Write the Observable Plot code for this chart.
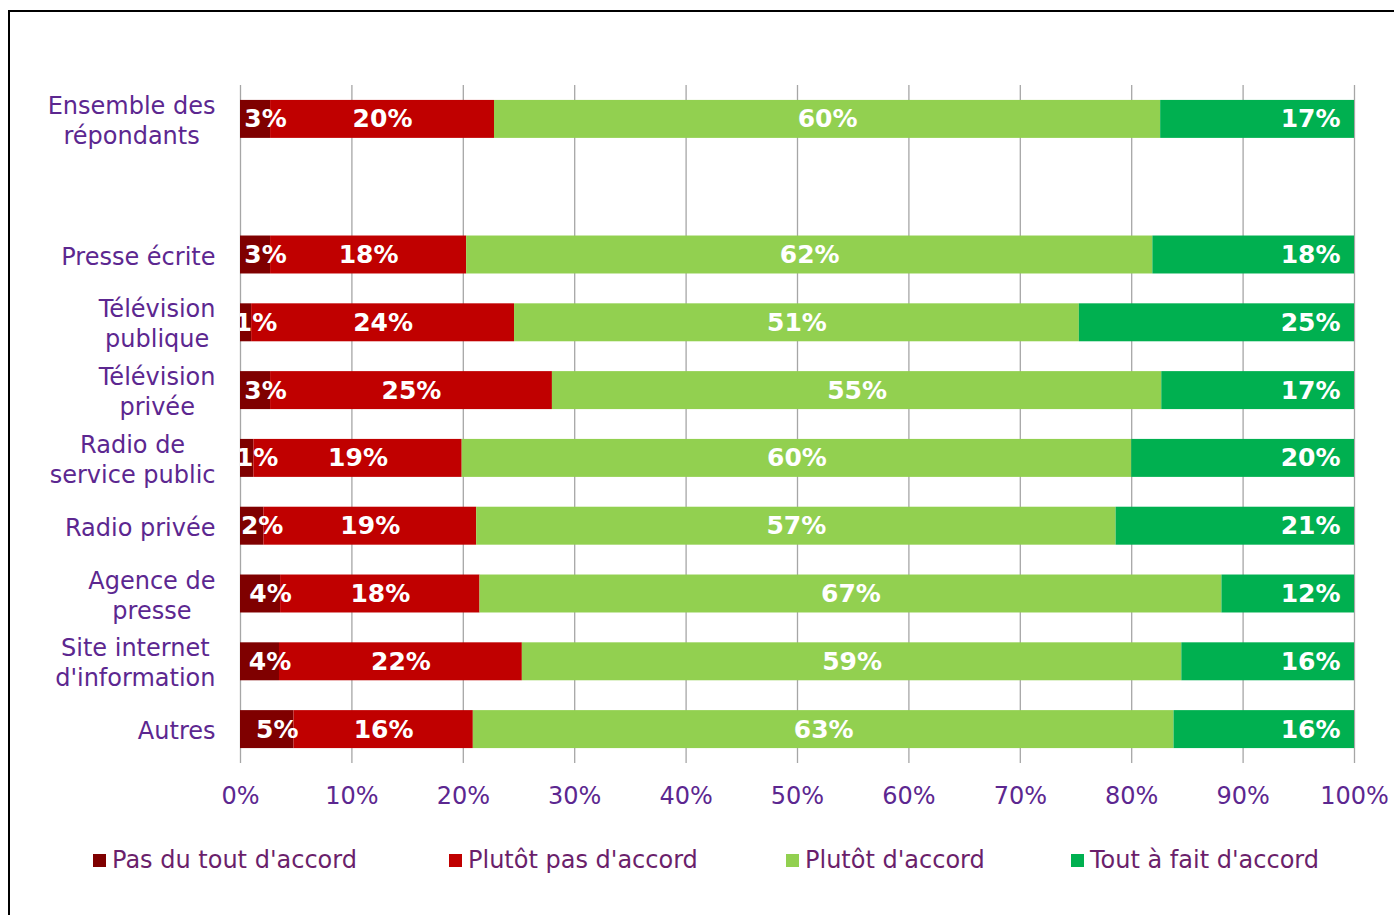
<!DOCTYPE html>
<html><head><meta charset="utf-8">
<script src="https://cdn.jsdelivr.net/npm/d3@7"></script>
<script src="https://cdn.jsdelivr.net/npm/@observablehq/plot@0.6"></script>
<style>
body{margin:0;background:#fff;font-family:"DejaVu Sans",Verdana,sans-serif;}
#frame{position:absolute;left:8px;top:10px;width:1500px;height:1000px;border:2px solid #000;box-sizing:border-box;}
#chart{position:absolute;left:0;top:0;}
#legend{position:absolute;top:843px;left:0;width:1394px;height:34px;}
.item{position:absolute;top:0;height:34px;display:flex;align-items:center;font-size:24px;color:#6b1f6b;white-space:nowrap;font-family:"DejaVu Sans",sans-serif;}
.sw{width:13px;height:13px;margin-right:6px;flex:none;}
</style></head><body>
<div id="frame"></div><div id="chart"></div><div id="legend"></div>
<script>
const categories = ["Ensemble des\nrépondants", "Presse écrite", "Télévision\npublique", "Télévision\nprivée", "Radio de\nservice public", "Radio privée", "Agence de\npresse", "Site internet\nd'information", "Autres"];
const series = ["Pas du tout d'accord", "Plutôt pas d'accord", "Plutôt d'accord", "Tout à fait d'accord"];
const colors = ["#7f0000", "#c00000", "#92d050", "#00b050"];
const pasDuTout = [2.7, 2.7, 1.0, 2.7, 1.2, 2.1, 3.6, 3.5, 4.8];
const plutotPas = [20.1, 17.6, 23.6, 25.3, 18.7, 19.1, 17.9, 21.8, 16.1];
const plutot    = [59.8, 61.6, 50.7, 54.7, 60.1, 57.4, 66.6, 59.2, 62.9];
const toutAFait = [17.4, 18.1, 24.7, 17.3, 20.0, 21.4, 11.9, 15.5, 16.2];
const xTicks = [0, 10, 20, 30, 40, 50, 60, 70, 80, 90, 100];
const xTickLabels = ["0%", "10%", "20%", "30%", "40%", "50%", "60%", "70%", "80%", "90%", "100%"];

const seriesValues = [pasDuTout, plutotPas, plutot, toutAFait];
const table = [];
categories.forEach((c, i) => {
  series.forEach((s, j) => table.push({cat: c, series: s, value: seriesValues[j][i]}));
});
const yDomain = [categories[0], "", ...categories.slice(1)];
const purple = "#5c2790";
const fmt = v => Math.round(v) + "%";

const ctx = document.createElement("canvas").getContext("2d");
ctx.font = "24px 'DejaVu Sans'";
const labelMarks = categories.map(c => {
  const w = Math.max(...c.split("\n").map(l => ctx.measureText(l).width));
  return Plot.text([c], {y: d => d, text: d => d, frameAnchor: "left", textAnchor: "middle",
    dx: -25 - w / 2, lineHeight: 1.25, fontSize: 24, fill: purple});
});

const labelCommon = {x: "value", y: "cat", z: "series", fill: "white", fontWeight: "bold", fontSize: 25};

const chart = Plot.plot({
  width: 1394, height: 830,
  marginLeft: 240, marginRight: 40, marginTop: 85, marginBottom: 67,
  style: {fontFamily: "DejaVu Sans, sans-serif", background: "transparent", overflow: "visible"},
  x: {domain: [0, 100], axis: null},
  y: {domain: yDomain, paddingInner: 0.44, paddingOuter: 0.22, round: false, axis: null},
  color: {domain: series, range: colors},
  marks: [
    Plot.gridX(xTicks, {stroke: "#a6a6a6", strokeOpacity: 1, strokeWidth: 1.3}),
    Plot.axisX(xTicks, {tickSize: 0, tickPadding: 23, fill: purple, fontSize: 24,
      tickFormat: d => xTickLabels[xTicks.indexOf(d)], label: null}),
    Plot.barX(table, Plot.stackX({x: "value", y: "cat", fill: "series"})),
    Plot.text(table, Plot.stackX({...labelCommon, text: d => d.series === series[0] ? fmt(d.value) : null, dx: 10, clip: true})),
    Plot.text(table, Plot.stackX({...labelCommon, text: d => (d.series === series[1] || d.series === series[2]) ? fmt(d.value) : null})),
    Plot.text(table, Plot.stackX2({...labelCommon, text: d => d.series === series[3] ? fmt(d.value) : null, textAnchor: "end", dx: -14})),
    ...labelMarks
  ]
});
document.getElementById("chart").appendChild(chart);

const legendLefts = [93, 449, 786, 1071];
const legend = document.getElementById("legend");
series.forEach((s, i) => {
  const item = document.createElement("div");
  item.className = "item";
  item.style.left = legendLefts[i] + "px";
  const sw = document.createElement("span");
  sw.className = "sw"; sw.style.background = colors[i];
  const t = document.createElement("span");
  t.textContent = s;
  item.appendChild(sw); item.appendChild(t);
  legend.appendChild(item);
});
</script>
</body></html>
